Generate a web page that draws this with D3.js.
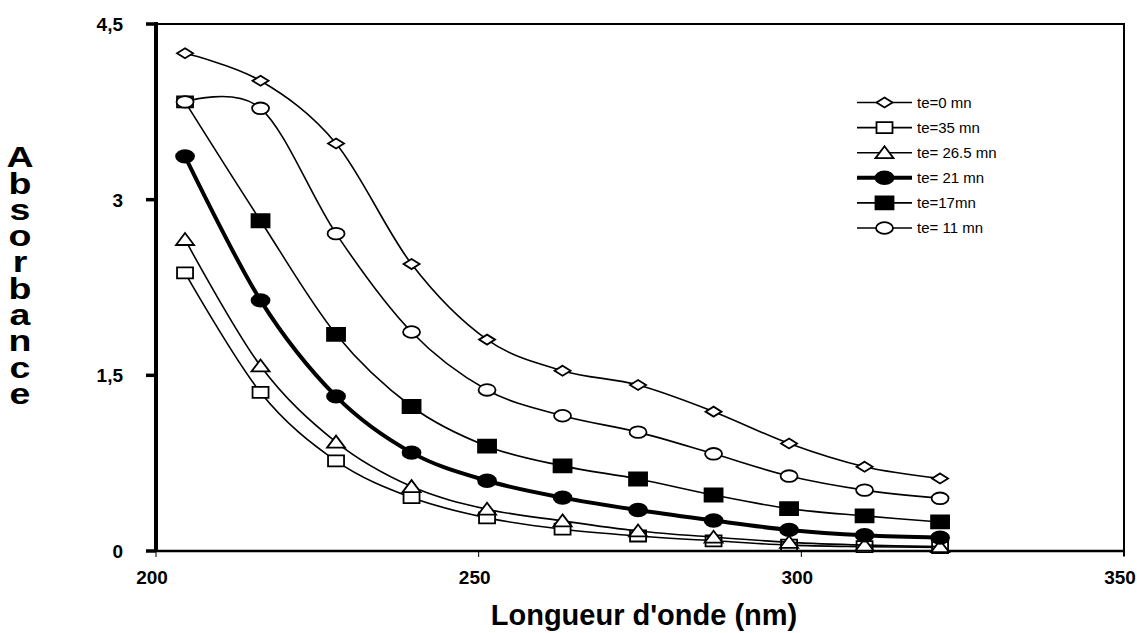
<!DOCTYPE html>
<meta charset="utf-8">
<script src="https://d3js.org/d3.v7.min.js"></script>
<style>
  body { margin: 0; background: #fff; }
  text { font-family: "Liberation Sans", Arial, sans-serif; }
</style>
<div id="my_dataviz"></div>
<script>

// wavelengths (nm) of the measured points
var wavelengths = [204.5, 216.2, 227.9, 239.6, 251.3, 263.0, 274.7, 286.4, 298.1, 309.8, 321.5];

// absorbance for each time
var te0   = [4.25, 4.015, 3.48, 2.45, 1.805, 1.54, 1.417, 1.19, 0.918, 0.72, 0.62];
var te35  = [2.375, 1.354, 0.77, 0.456, 0.283, 0.186, 0.128, 0.087, 0.05, 0.037, 0.03];
var te265 = [2.66, 1.58, 0.93, 0.55, 0.357, 0.257, 0.171, 0.118, 0.074, 0.05, 0.037];
var te21  = [3.37, 2.14, 1.32, 0.84, 0.60, 0.456, 0.35, 0.26, 0.18, 0.134, 0.114];
var te17  = [3.835, 2.82, 1.85, 1.234, 0.895, 0.727, 0.615, 0.478, 0.362, 0.30, 0.248];
var te11  = [3.835, 3.78, 2.71, 1.87, 1.375, 1.155, 1.015, 0.83, 0.64, 0.52, 0.45];

var seriesNames = ["te=0 mn", "te=35 mn", "te= 26.5 mn", "te= 21 mn", "te=17mn", "te= 11 mn"];

var xTicks = [200, 250, 300, 350];
var yTicks = [0, 1.5, 3, 4.5];
var yTickLabels = ["0", "1,5", "3", "4,5"];

// series drawn in legend order (last one ends up on top)
var series = [
  {name: seriesNames[0], values: te0,   marker: "diamond",  fill: "#fff", width: 1.6},
  {name: seriesNames[1], values: te35,  marker: "square",   fill: "#fff", width: 1.6},
  {name: seriesNames[2], values: te265, marker: "triangle", fill: "#fff", width: 1.6},
  {name: seriesNames[3], values: te21,  marker: "circle",   fill: "#000", width: 4},
  {name: seriesNames[4], values: te17,  marker: "square",   fill: "#000", width: 1.6, hollowFirst: true},
  {name: seriesNames[5], values: te11,  marker: "circle",   fill: "#fff", width: 1.6}
];

var W = 1137, H = 633;
var plot = {left: 156, right: 1124, top: 24, bottom: 551};

var svg = d3.select("#my_dataviz")
  .append("svg")
    .attr("width", W)
    .attr("height", H);

var x = d3.scaleLinear().domain([200, 350]).range([plot.left, plot.right]);
var y = d3.scaleLinear().domain([0, 4.5]).range([plot.bottom, plot.top]);

// marker shapes, slightly wider than tall like the original
function markerPath(type, filled) {
  if (type == "diamond") return "M0,-5L8,0L0,5L-8,0Z";
  if (type == "square") {
    var w = filled ? 9 : 8, h = filled ? 6.5 : 5.5;
    return "M" + (-w) + "," + (-h) + "H" + w + "V" + h + "H" + (-w) + "Z";
  }
  if (type == "triangle") return "M0,-6.5L9,5.5L-9,5.5Z";
  // ellipse for the circles
  var rx = filled ? 9 : 8.5, ry = filled ? 6.3 : 5.8;
  return "M" + (-rx) + ",0A" + rx + "," + ry + " 0 1,0 " + rx + ",0A" + rx + "," + ry + " 0 1,0 " + (-rx) + ",0Z";
}

// plot frame: thin top/right border, thick left axis
svg.append("path")
  .attr("d", "M" + plot.left + "," + plot.top + "H" + plot.right + "V" + (plot.bottom + 5))
  .attr("fill", "none")
  .attr("stroke", "#000")
  .attr("stroke-width", 2);

svg.append("line")
  .attr("x1", plot.left).attr("x2", plot.right)
  .attr("y1", plot.bottom).attr("y2", plot.bottom)
  .attr("stroke", "#000")
  .attr("stroke-width", 2.5);

svg.append("line")
  .attr("x1", plot.left).attr("x2", plot.left)
  .attr("y1", plot.top - 2).attr("y2", plot.bottom + 1)
  .attr("stroke", "#000")
  .attr("stroke-width", 4);

// y ticks and labels
svg.append("g").selectAll("line")
  .data(yTicks)
  .enter().append("line")
    .attr("x1", plot.left - 10).attr("x2", plot.left)
    .attr("y1", function(d) { return y(d); })
    .attr("y2", function(d) { return y(d); })
    .attr("stroke", "#000")
    .attr("stroke-width", 3.5);

svg.append("g").selectAll("text")
  .data(yTicks)
  .enter().append("text")
    .attr("x", 123)
    .attr("y", function(d) { return y(d); })
    .attr("dy", "0.36em")
    .attr("text-anchor", "end")
    .style("font-size", "19px")
    .style("font-weight", "bold")
    .text(function(d, i) { return yTickLabels[i]; });

// x ticks and labels
svg.append("g").selectAll("line")
  .data(xTicks)
  .enter().append("line")
    .attr("x1", function(d) { return x(d); })
    .attr("x2", function(d) { return x(d); })
    .attr("y1", plot.bottom).attr("y2", plot.bottom + 6)
    .attr("stroke", "#000")
    .attr("stroke-width", 1);

svg.append("g").selectAll("text")
  .data(xTicks)
  .enter().append("text")
    .attr("x", function(d) { return x(d) - 4; })
    .attr("y", 584)
    .attr("text-anchor", "middle")
    .style("font-size", "19px")
    .style("font-weight", "bold")
    .text(function(d) { return d; });

// axis titles
svg.append("text")
  .attr("x", 644)
  .attr("y", 625)
  .attr("text-anchor", "middle")
  .style("font-size", "29px")
  .style("font-weight", "bold")
  .text("Longueur d'onde (nm)");

// stacked vertical title: one text, upright glyphs in vertical writing mode
svg.append("g")
  .attr("transform", "translate(20,0) scale(1.25,1)")
  .append("text")
    .attr("x", 0)
    .attr("y", 140)
    .style("writing-mode", "vertical-rl")
    .style("text-orientation", "upright")
    .style("font-size", "30px")
    .style("font-weight", "bold")
    .style("letter-spacing", "-7.3px")
    .text("Absorbance");

// curves (Excel style smoothing ~ cardinal spline)
var line = d3.line()
  .x(function(d) { return x(d[0]); })
  .y(function(d) { return y(d[1]); })
  .curve(d3.curveCardinal.tension(0));

series.forEach(function(s) {
  var pts = wavelengths.map(function(w, i) { return [w, s.values[i]]; });
  var g = svg.append("g");

  g.append("path")
    .datum(pts)
    .attr("fill", "none")
    .attr("stroke", "#000")
    .attr("stroke-width", s.width)
    .attr("d", line);

  g.selectAll("path.mk")
    .data(pts)
    .enter().append("path")
      .attr("class", "mk")
      .attr("transform", function(d) { return "translate(" + x(d[0]) + "," + y(d[1]) + ")"; })
      .attr("d", function(d, i) {
        var filled = s.fill == "#000" && !(s.hollowFirst && i == 0);
        return markerPath(s.marker, filled);
      })
      .attr("fill", function(d, i) { return (s.hollowFirst && i == 0) ? "#fff" : s.fill; })
      .attr("stroke", "#000")
      .attr("stroke-width", 1.8);
});

// legend
var legend = svg.append("g")
  .selectAll("g")
  .data(series)
  .enter().append("g")
    .attr("transform", function(d, i) { return "translate(0," + (102.5 + i * 25.1) + ")"; });

legend.append("line")
  .attr("x1", 857).attr("x2", 912)
  .attr("y1", 0).attr("y2", 0)
  .attr("stroke", "#000")
  .attr("stroke-width", function(d) { return d.width; });

legend.append("path")
  .attr("transform", "translate(884.5,0)")
  .attr("d", function(d) { return markerPath(d.marker, d.fill == "#000"); })
  .attr("fill", function(d) { return d.fill; })
  .attr("stroke", "#000")
  .attr("stroke-width", 1.8);

legend.append("text")
  .attr("x", 917)
  .attr("y", 0)
  .attr("dy", "0.36em")
  .style("font-size", "15px")
  .text(function(d) { return d.name; });

</script>
